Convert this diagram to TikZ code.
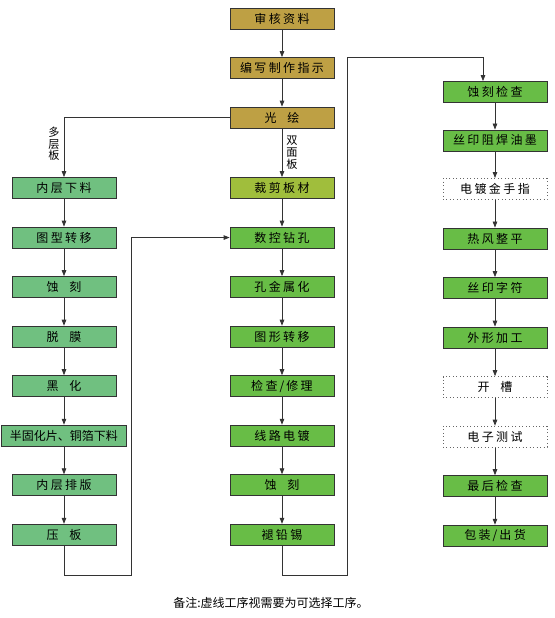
\documentclass[tikz,border=0pt]{standalone}
\usepackage{fontspec}
\setmainfont{Noto Sans CJK SC}
\newfontfamily\boxfont[LetterSpace=20]{Noto Sans CJK SC}
\usetikzlibrary{arrows.meta,positioning}
\definecolor{pcbgold}{RGB}{190,160,68}
\definecolor{pcbolive}{RGB}{160,190,60}
\definecolor{pcbgreen}{RGB}{104,189,70}
\definecolor{pcbmint}{RGB}{112,192,128}
\definecolor{pcbline}{RGB}{51,51,51}

\begin{document}
\begin{tikzpicture}[x=0.75pt, y=-0.75pt, node distance=20.8pt, >={Triangle[length=4.5pt,width=3.4pt]},
  every node/.style={font=\boxfont\fontsize{9pt}{10pt}\selectfont},
  proc/.style={draw=pcbline, line width=0.6pt, minimum width=78pt, minimum height=15.75pt, inner sep=0pt},
  optproc/.style={proc, draw=black!60, dotted, fill=white},
  flow/.style={->, draw=pcbline, line width=0.6pt},
  tag/.style={font=\fontsize{8.4pt}{8.8pt}\selectfont, align=center, inner sep=1pt}]
\useasboundingbox (0,0) rectangle (554,618);
% middle column
\node[proc,fill=pcbgold] (shenhe) at (282,18.5) {审核资料};
\node[proc,fill=pcbgold,below=of shenhe] (bianxie) {编写制作指示};
\node[proc,fill=pcbgold,below=of bianxie] (guanghui) {光\hspace{0.9em}绘};
\node[proc,fill=pcbolive] (caijian) at (282,188) {裁剪板材};
\node[proc,fill=pcbgreen,below=of caijian] (shukong) {数控钻孔};
\node[proc,fill=pcbgreen,below=of shukong] (kongjin) {孔金属化};
\node[proc,fill=pcbgreen,below=of kongjin] (tuxing) {图形转移};
\node[proc,fill=pcbgreen,below=of tuxing] (jiancha) {检查\,/\,修理};
\node[proc,fill=pcbgreen,below=of jiancha] (xianlu) {线路电镀};
\node[proc,fill=pcbgreen,below=of xianlu] (shike) {蚀\hspace{0.9em}刻};
\node[proc,fill=pcbgreen,below=of shike] (tuiqian) {褪铅锡};
% left column (multilayer)
\node[proc,fill=pcbmint] (xialiao) at (64,188) {内层下料};
\node[proc,fill=pcbmint,below=of xialiao] (zhuanyi) {图型转移};
\node[proc,fill=pcbmint,below=of zhuanyi] (neishi) {蚀\hspace{0.9em}刻};
\node[proc,fill=pcbmint,below=of neishi] (tuomo) {脱\hspace{0.9em}膜};
\node[proc,fill=pcbmint,below=of tuomo] (heihua) {黑\hspace{0.9em}化};
\node[proc,fill=pcbmint,below=of heihua,minimum width=94pt,font=\fontsize{9pt}{10pt}\selectfont] (bangu) {半固化片、铜箔下料};
\node[proc,fill=pcbmint,below=of bangu] (paiban) {内层排版};
\node[proc,fill=pcbmint,below=of paiban] (yaban) {压\hspace{0.9em}板};
% right column
\node[proc,fill=pcbgreen] (shijian) at (495,92) {蚀刻检查};
\node[proc,fill=pcbgreen,below=20pt of shijian] (sizu) {丝印阻焊油墨};
\node[optproc,below=20pt of sizu] (dianjin) {电镀金手指};
\node[proc,fill=pcbgreen,below=of dianjin] (refeng) {热风整平};
\node[proc,fill=pcbgreen,below=of refeng] (sizi) {丝印字符};
\node[proc,fill=pcbgreen,below=of sizi] (waixing) {外形加工};
\node[optproc,below=of waixing] (kaicao) {开\hspace{0.9em}槽};
\node[optproc,below=of kaicao] (dianzi) {电子测试};
\node[proc,fill=pcbgreen,below=of dianzi] (zuihou) {最后检查};
\node[proc,fill=pcbgreen,below=of zuihou] (baozhuang) {包装\,/\,出货};
% straight steps
\foreach \a/\b in {shenhe/bianxie, bianxie/guanghui, caijian/shukong, shukong/kongjin, kongjin/tuxing,
    tuxing/jiancha, jiancha/xianlu, xianlu/shike, shike/tuiqian,
    xialiao/zhuanyi, zhuanyi/neishi, neishi/tuomo, tuomo/heihua, heihua/bangu, bangu/paiban, paiban/yaban,
    shijian/sizu, sizu/dianjin, dianjin/refeng, refeng/sizi, sizi/waixing, waixing/kaicao, kaicao/dianzi,
    dianzi/zuihou, zuihou/baozhuang}
  \draw[flow] (\a.south) -- (\b.north);
\draw[flow] (guanghui.south) -- node[tag,right=2pt] (shuangmian) {双\\面\\板} (caijian.north);
\draw[flow] (guanghui.west) -| node[tag,pos=0.72,left=2pt] (duoceng) {多\\层\\板} (xialiao.north);
% return loops
\coordinate (loopa) at (131,575);
\coordinate (loopb) at (347,575);
\coordinate (loopc) at (483,57);
\draw[flow] (yaban.south) |- (loopa) |- (shukong.west);
\draw[flow] (tuiqian.south) |- (loopb) |- (loopc) -- (loopc |- shijian.north);
\node[font=\fontsize{9pt}{10pt}\selectfont] (beizhu) at (271,603) {备注:虚线工序视需要为可选择工序。};
\end{tikzpicture}
\end{document}
